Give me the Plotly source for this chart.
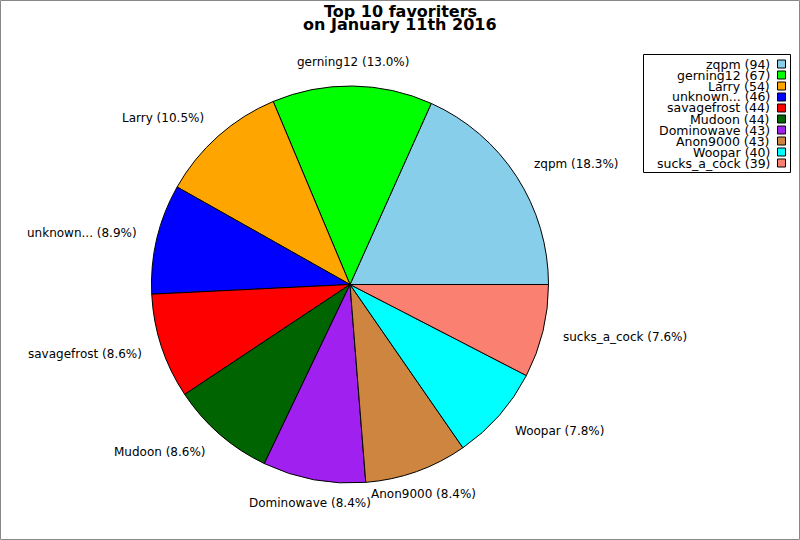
import math
import plotly.graph_objects as go

names = ["zqpm", "gerning12", "Larry", "unknown...", "savagefrost", "Mudoon",
         "Dominowave", "Anon9000", "Woopar", "sucks_a_cock"]
counts = [94, 67, 54, 46, 44, 44, 43, 43, 40, 39]
colors = ["#87CEEB", "#00FF00", "#FFA500", "#0000FF", "#FF0000", "#006400",
          "#A020F0", "#CD853F", "#00FFFF", "#FA8072"]

W, H = 800, 540
L, R, T, B = 151, 251, 86, 57
pw, ph = W - L - R, H - T - B
CX, CY = L + pw / 2, T + ph / 2
RAD = min(pw, ph) / 2

def px(x):
    return (x - L) / pw

def py(y):
    return (H - B - y) / ph

total = sum(counts)
start_rot = 90 - 360 * counts[0] / total

fig = go.Figure(go.Pie(
    labels=names, values=counts, textinfo="none", sort=False,
    direction="counterclockwise", rotation=start_rot,
    marker=dict(colors=colors, line=dict(color="black", width=1)),
    showlegend=False, hoverinfo="label+value+percent",
))

shapes = [dict(type="rect", xref="paper", yref="paper",
               x0=px(0.5), x1=px(W - 0.5), y0=py(0.5), y1=py(H - 0.5),
               line=dict(color="#888888", width=1), layer="below"),
          dict(type="rect", xref="paper", yref="paper",
               x0=px(643.5), x1=px(790.5), y0=py(54.5), y1=py(172.5),
               line=dict(color="black", width=1), fillcolor="white")]
annotations = [
    dict(text="<b>Top 10 favoriters</b>", xref="paper", yref="paper",
         x=px(400), y=py(11), xanchor="center", yanchor="middle", showarrow=False,
         font=dict(family="DejaVu Sans", size=16, color="black")),
    dict(text="<b>on January 11th 2016</b>", xref="paper", yref="paper",
         x=px(400), y=py(24), xanchor="center", yanchor="middle", showarrow=False,
         font=dict(family="DejaVu Sans", size=16, color="black")),
]

# slice labels at 1.1 radius, placed from the data's cumulative angles
cum = 0
for n, c in zip(names, counts):
    mid = 2 * math.pi * (cum + c / 2) / total
    cum += c
    cs, sn = math.cos(mid), math.sin(mid)
    if abs(cs) < 0.5:
        xa = "center"
    elif cs > 0:
        xa = "left"
    else:
        xa = "right"
    annotations.append(dict(
        text=f"{n} ({c / total * 100:.1f}%)", xref="paper", yref="paper",
        x=px(CX + 1.1 * RAD * cs), y=py(CY - 1.12 * RAD * sn),
        xanchor=xa, yanchor="middle", showarrow=False, borderpad=0,
        font=dict(family="DejaVu Sans", size=12, color="black")))

for i, (n, c, col) in enumerate(zip(names, counts, colors)):
    yc = 64 + i * 11.0
    annotations.append(dict(text=f"{n} ({c})", xref="paper", yref="paper",
                            x=px(771), y=py(yc), xanchor="right", yanchor="middle",
                            showarrow=False, borderpad=0,
                            font=dict(family="DejaVu Sans", size=12.5, color="black")))
    shapes.append(dict(type="rect", xref="paper", yref="paper",
                       x0=px(777.5), x1=px(785.5), y0=py(yc - 4), y1=py(yc + 4),
                       fillcolor=col, line=dict(color="black", width=1)))

fig.update_layout(
    width=W, height=H, margin=dict(l=L, r=R, t=T, b=B),
    paper_bgcolor="white", plot_bgcolor="white",
    shapes=shapes, annotations=annotations,
    font=dict(family="DejaVu Sans"),
)
fig.write_html("out.html", config={"displayModeBar": False},
               post_script="document.body.style.margin='0';")
